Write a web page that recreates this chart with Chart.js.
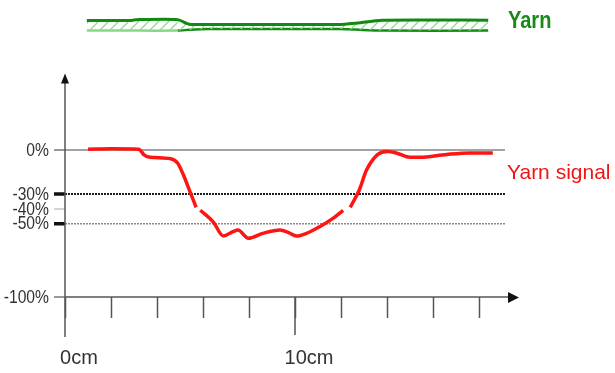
<!DOCTYPE html>
<html>
<head>
<meta charset="utf-8">
<script src="https://cdn.jsdelivr.net/npm/chart.js@4.4.0/dist/chart.umd.min.js"></script>
<style>
  html, body { margin: 0; padding: 0; background: #fff; }
  #wrap { position: relative; width: 615px; height: 373px; }
</style>
</head>
<body>
<div id="wrap"><canvas id="chart" width="615" height="373"></canvas></div>
<script>
// yarn signal along the yarn (cm, % change); null = break in the trace
const signalCm  = [1.0, 2.0, 3.2, 3.45, 3.7, 4.6, 4.9, 5.15, 5.45, 5.7, 5.78, 5.88, 6.45, 6.88, 7.3, 7.52, 7.97, 8.6, 9.35, 9.7, 10.07, 10.5, 11.09, 11.65, 12.09, 12.2, 12.4, 12.8, 13.1, 13.6, 14.0, 14.4, 15.0, 15.4, 16.6, 17.6, 18.6];
const signalPct = [0.5, 0.8, 0.5, -3.5, -5, -6, -9, -17, -29, -39, null, -41, -49, -58.5, -55.6, -54.4, -60, -56.7, -54.4, -56, -58.5, -56.7, -52, -46.5, -41, null, -39, -27, -14, -3, -1, -2, -5, -5, -3, -2, -2];

// yarn outline above the chart (mm from centre line)
const yarnCm    = [0.95, 2.9, 3.1, 4.9, 5.4, 6.2, 11.9, 12.6, 13.8, 18.4];
const yarnUpper = [0.20, 0.20, 0.23, 0.23, 0.05, 0.04, 0.04, 0.09, 0.21, 0.21];
const yarnLower = [-0.20, -0.20, -0.20, -0.20, -0.17, -0.14, -0.14, -0.16, -0.20, -0.20];

// axes
const yTickValues = [0, -30, -40, -50, -100];
const yTickLabels = ['0%', '-30%', '-40%', '-50%', '-100%'];
const xTickValues = [0, 2, 4, 6, 8, 10, 12, 14, 16, 18];
const xTickLabels = ['0cm', '', '', '', '', '10cm', '', '', '', ''];

const xMax = 19.13;
const yMin = -100, yMax = 102.04;
const yArrowAt = 52;

// per-tick styling of the y reference lines
const yLineStyle = {
  '0':    { color: '#a3a3a3', width: 2,   dash: [],     tick: '#999', tickW: 2 },
  '-30':  { color: '#1e1e1e', width: 2,   dash: [2, 1], tick: '#111', tickW: 3.5 },
  '-40':  { color: 'rgba(0,0,0,0)', width: 0, dash: [], tick: '#aaa', tickW: 1 },
  '-50':  { color: '#8a8a8a', width: 1.5, dash: [2, 1], tick: '#111', tickW: 3.5 },
  '-100': { color: 'rgba(0,0,0,0)', width: 0, dash: [], tick: '#777', tickW: 1.5 }
};
const lineStyle = (ctx) => ctx.tick ? yLineStyle[String(ctx.tick.value)] : null;

const canvas = document.getElementById('chart');

// light green hatch for the yarn body
function makeHatch() {
  const c = document.createElement('canvas');
  c.width = 10; c.height = 10;
  const g = c.getContext('2d');
  g.strokeStyle = '#8fdc8f';
  g.lineWidth = 1.3;
  g.beginPath();
  g.moveTo(0, 10); g.lineTo(10, 0);
  g.moveTo(-2, 2); g.lineTo(2, -2);
  g.moveTo(8, 12); g.lineTo(12, 8);
  g.stroke();
  return canvas.getContext('2d').createPattern(c, 'repeat');
}

// condensed text: no narrow face installed, so squeeze horizontally
function narrowText(ctx, text, x, y, sx, align) {
  ctx.save();
  ctx.translate(x, y);
  ctx.scale(sx, 1);
  ctx.textAlign = align;
  ctx.fillText(text, 0, 0);
  ctx.restore();
}

const axesPlugin = {
  id: 'axesDeco',
  afterDatasetsDraw(chart) {
    const { ctx, chartArea, scales: { x, y } } = chart;
    const x0 = x.getPixelForValue(0);
    const yBase = y.getPixelForValue(-100);
    const yTop = y.getPixelForValue(yArrowAt);
    ctx.save();
    ctx.strokeStyle = '#555';
    ctx.fillStyle = '#111';
    ctx.lineWidth = 1.5;
    ctx.beginPath();
    // y axis, running down past the x axis like the 0cm tick
    ctx.moveTo(x0, yTop + 8);
    ctx.lineTo(x0, yBase + 40);
    // x axis
    ctx.moveTo(x0, yBase);
    ctx.lineTo(chartArea.right + 4, yBase);
    // long tick at 10cm
    const x10 = x.getPixelForValue(10);
    ctx.moveTo(x10, yBase);
    ctx.lineTo(x10, yBase + 38);
    ctx.stroke();
    // arrow heads
    ctx.beginPath();
    ctx.moveTo(x0, yTop);
    ctx.lineTo(x0 - 4, yTop + 10);
    ctx.lineTo(x0 + 4, yTop + 10);
    ctx.closePath();
    ctx.fill();
    ctx.beginPath();
    ctx.moveTo(chartArea.right + 14, yBase + 0.5);
    ctx.lineTo(chartArea.right + 3, yBase - 5);
    ctx.lineTo(chartArea.right + 3, yBase + 6);
    ctx.closePath();
    ctx.fill();

    // y tick labels
    ctx.fillStyle = '#333';
    ctx.textBaseline = 'middle';
    ctx.font = '18px "Liberation Sans", Arial, sans-serif';
    yTickValues.forEach((v, i) => {
      narrowText(ctx, yTickLabels[i], x0 - 16, y.getPixelForValue(v) + 1, 0.87, 'right');
    });

    // series labels
    ctx.textBaseline = 'alphabetic';
    ctx.fillStyle = '#198a19';
    ctx.font = 'bold 23px "Liberation Sans", Arial, sans-serif';
    narrowText(ctx, 'Yarn', chartArea.right + 3, 28, 0.87, 'left');
    ctx.fillStyle = '#f01414';
    ctx.font = '21px "Liberation Sans", Arial, sans-serif';
    narrowText(ctx, 'Yarn signal', chartArea.right + 2, 179, 1.0, 'left');
    ctx.restore();
  }
};

new Chart(canvas, {
  type: 'line',
  data: {
    datasets: [
      {
        label: 'Yarn upper',
        yAxisID: 'yarn',
        data: yarnCm.map((v, i) => ({ x: v, y: yarnUpper[i] })),
        borderColor: '#108a10',
        borderWidth: 3,
        backgroundColor: makeHatch(),
        fill: '+1',
        pointRadius: 0,
        tension: 0.2
      },
      {
        label: 'Yarn lower',
        yAxisID: 'yarn',
        data: yarnCm.map((v, i) => ({ x: v, y: yarnLower[i] })),
        borderColor: '#148c14',
        segment: { borderColor: s => s.p1.parsed.x <= 4.9 ? '#86d886' : '#148c14' },
        borderWidth: 2.5,
        fill: false,
        pointRadius: 0,
        tension: 0.2
      },
      {
        label: 'Yarn signal',
        yAxisID: 'y',
        data: signalCm.map((v, i) => ({ x: v, y: signalPct[i] })),
        borderColor: '#ff1414',
        borderWidth: 3.5,
        fill: false,
        pointRadius: 0,
        spanGaps: false,
        tension: 0.4,
        cubicInterpolationMode: 'monotone'
      }
    ]
  },
  options: {
    responsive: false,
    animation: false,
    devicePixelRatio: 1,
    layout: { padding: { left: 0, top: 0, right: 110, bottom: 0 } },
    plugins: { legend: { display: false }, tooltip: { enabled: false } },
    scales: {
      x: {
        type: 'linear',
        min: 0,
        max: xMax,
        afterBuildTicks: s => { s.ticks = xTickValues.map(v => ({ value: v })); },
        afterFit: s => { s.height = 76; s.paddingLeft = 0; s.paddingRight = 0; },
        border: { display: false },
        grid: { drawOnChartArea: false, drawTicks: true, tickLength: 21, tickColor: '#555', tickWidth: 1.5, color: '#555' },
        ticks: {
          autoSkip: false, maxRotation: 0, minRotation: 0,
          labelOffset: 14, padding: 28, color: '#333',
          font: { family: '"Liberation Sans", Arial, sans-serif', size: 20 },
          callback: (v, i) => xTickLabels[i]
        }
      },
      y: {
        type: 'linear',
        position: 'left',
        min: yMin,
        max: yMax,
        afterBuildTicks: s => { s.ticks = yTickValues.map(v => ({ value: v })); },
        afterFit: s => { s.width = 65; s.paddingTop = 0; s.paddingBottom = 0; },
        border: { display: false, dash: c => { const st = lineStyle(c); return st ? st.dash : []; } },
        grid: {
          drawTicks: true,
          tickLength: 11,
          color: c => { const st = lineStyle(c); return st ? st.color : 'rgba(0,0,0,0)'; },
          lineWidth: c => { const st = lineStyle(c); return st ? st.width : 0; },
          tickColor: c => { const st = lineStyle(c); return st ? st.tick : '#555'; },
          tickWidth: c => { const st = lineStyle(c); return st ? st.tickW : 1; },
          tickBorderDash: []
        },
        // labels are drawn squeezed by the plugin
        ticks: { display: false, autoSkip: false }
      },
      yarn: {
        type: 'linear',
        display: false,
        min: -10.65,
        max: 1
      }
    }
  },
  plugins: [axesPlugin]
});
</script>
</body>
</html>
